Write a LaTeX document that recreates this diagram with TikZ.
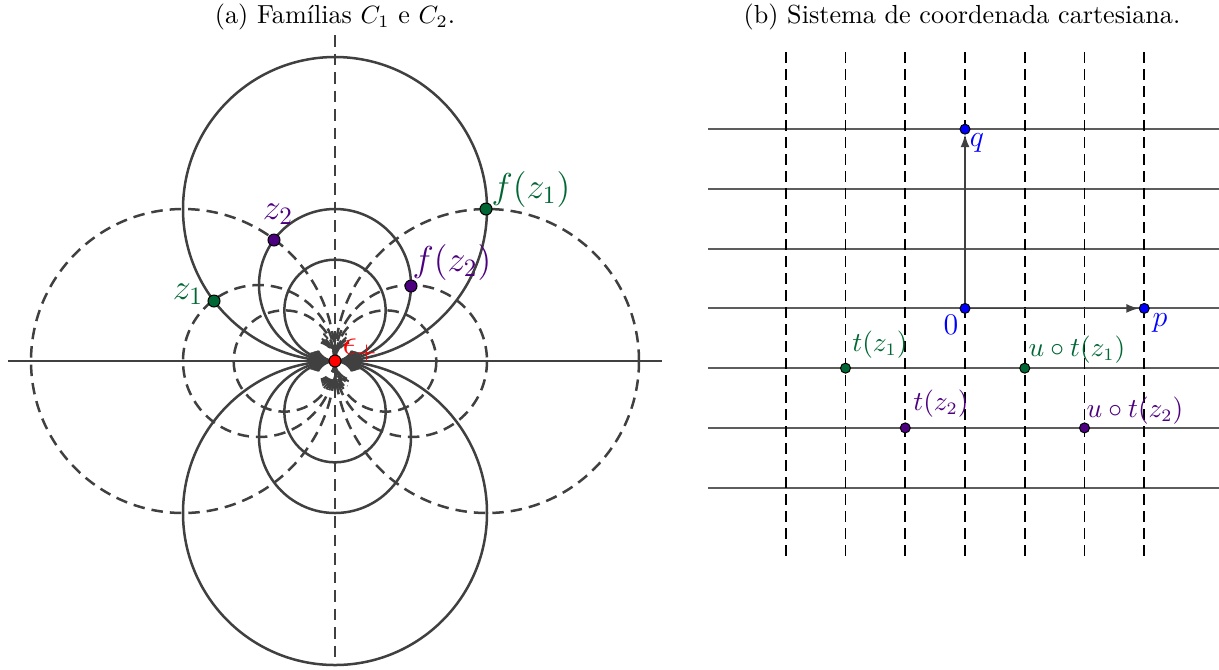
\documentclass[tikz,border=0pt]{standalone}
\usepackage{tikz}
\definecolor{ggdark}{HTML}{404040}
\definecolor{gggreen}{HTML}{006633}
\definecolor{ggpurple}{HTML}{4C0080}
\definecolor{ggblue}{HTML}{0000FF}
\definecolor{ggred}{HTML}{FF0000}
\usetikzlibrary{arrows.meta, positioning}
\tikzset{
	solidc/.style={draw=ggdark, line width=1pt},
	dashc/.style={draw=ggdark, line width=1pt, dash pattern=on 4.6pt off 2.8pt},
	gridh/.style={draw=ggdark!85, line width=0.8pt},
	gridv/.style={draw=black, line width=0.7pt, dash pattern=on 4.4pt off 2.4pt},
	ptdot/.style={circle, draw=black, line width=0.4pt, inner sep=0pt, minimum size=4.8pt},
	gdot/.style={ptdot, fill=gggreen},
	vdot/.style={ptdot, fill=ggpurple},
	bdot/.style={ptdot, fill=ggblue, minimum size=4pt},
	alab/.style={font=\fontsize{14}{16}\selectfont, inner sep=0pt},
	blab/.style={font=\fontsize{10.6}{12}\selectfont, inner sep=0pt},
	parr/.style={-{Latex[length=5pt, width=3.6pt]}, line width=0.6pt, draw=ggdark}
}

\begin{document}
\begin{tikzpicture}[x=0.4pt, y=-0.4pt, font=\fontsize{10.45}{12.5}\selectfont]
	\useasboundingbox (0,0) rectangle (1219,669);
	% (a) families C1 and C2
	\node (ta) at (335,17) {(a) Famílias $C_1$ e $C_2$.};
	\draw[solidc] (8,361) -- (662,361);
	\draw[dashc] (335,35) -- (335,662);
	\foreach \k in {1,2,3} {
		\draw[solidc] (335,361-152/\k) circle[radius=152/\k];
		\draw[solidc] (335,361+152/\k) circle[radius=152/\k];
		\draw[dashc] (335-152/\k,361) circle[radius=152/\k];
		\draw[dashc] (335+152/\k,361) circle[radius=152/\k];
	}
	% circles shrinking to the origin
	\begin{scope}
		\clip (335,361) ellipse[x radius=34, y radius=12];
		\foreach \k in {4,...,8} {
			\draw[solidc, line width=0.8pt] (335,361-152/\k) circle[radius=152/\k];
			\draw[solidc, line width=0.8pt] (335,361+152/\k) circle[radius=152/\k];
		}
	\end{scope}
	\begin{scope}
		\clip (335,361) ellipse[x radius=16, y radius=40];
		\foreach \k in {4,...,8} {
			\draw[dashc, line width=0.8pt] (335-152/\k,361) circle[radius=152/\k];
			\draw[dashc, line width=0.8pt] (335+152/\k,361) circle[radius=152/\k];
		}
	\end{scope}
	\node[ptdot, fill=ggred] (e) at (335,361) {};
	\coordinate (au) at (335,336);
	\coordinate (ad) at (335,394);
	\draw[-{Latex[length=3pt, width=2.6pt]}, line width=0.8pt, draw=ggdark] (au) -- (e.north);
	\draw[-{Latex[length=6pt, width=5pt]}, line width=0.8pt, draw=ggdark, shorten >=2pt] (ad) -- (e.south);
	\node[alab, text=ggred] (el) at (360,350) {$\epsilon_+$};
	\node[gdot] (z1) at (214,301) {};
	\node[vdot] (z2) at (274,240) {};
	\node[gdot] (fz1) at (486,209) {};
	\node[vdot] (fz2) at (411,286) {};
	\node[alab, text=gggreen] at (188,294) {$z_1$};
	\node[alab, text=ggpurple] at (278,214) {$z_2$};
	\node[alab, text=gggreen] at (531,189) {$f(z_1)$};
	\node[alab, text=ggpurple] at (452,262) {$f(z_2)$};
	% (b) cartesian grid
	\node (tb) at (962,17) {(b) Sistema de coordenada cartesiana.};
	\begin{scope}[shift={(965,308.4)}, x=23.9pt, y=23.9pt]
		\foreach \i in {-3,...,3}
			\draw[gridh] (-4.3,\i) -- (4.25,\i);
		\foreach \j in {-3,...,3}
			\draw[gridv] (\j,4.29) -- (\j,-4.21);
		\node[bdot] (o) at (0,0) {};
		\node[bdot] (q) at (0,3) {};
		\node[bdot] (p) at (3,0) {};
		\draw[parr] (o) -- (q);
		\draw[parr] (o) -- (p);
		\node[gdot, minimum size=4pt] (tz1) at (-2,-1) {};
		\node[gdot, minimum size=4pt] (utz1) at (1,-1) {};
		\node[vdot, minimum size=4pt] (tz2) at (-1,-2) {};
		\node[vdot, minimum size=4pt] (utz2) at (2,-2) {};
	\end{scope}
	\node[blab, text=ggblue, font=\fontsize{12}{14}\selectfont] at (977,143) {$q$};
	\node[blab, text=ggblue, font=\fontsize{12}{14}\selectfont] at (951,325) {$0$};
	\node[blab, text=ggblue, font=\fontsize{12}{14}\selectfont] at (1160,323) {$p$};
	\node[blab, text=gggreen] at (880,345) {$t(z_1)$};
	\node[blab, text=gggreen] at (1077,350) {$u\circ t(z_1)$};
	\node[blab, text=ggpurple] at (941,404) {$t(z_2)$};
	\node[blab, text=ggpurple] at (1135,411) {$u\circ t(z_2)$};
\end{tikzpicture}
\end{document}
